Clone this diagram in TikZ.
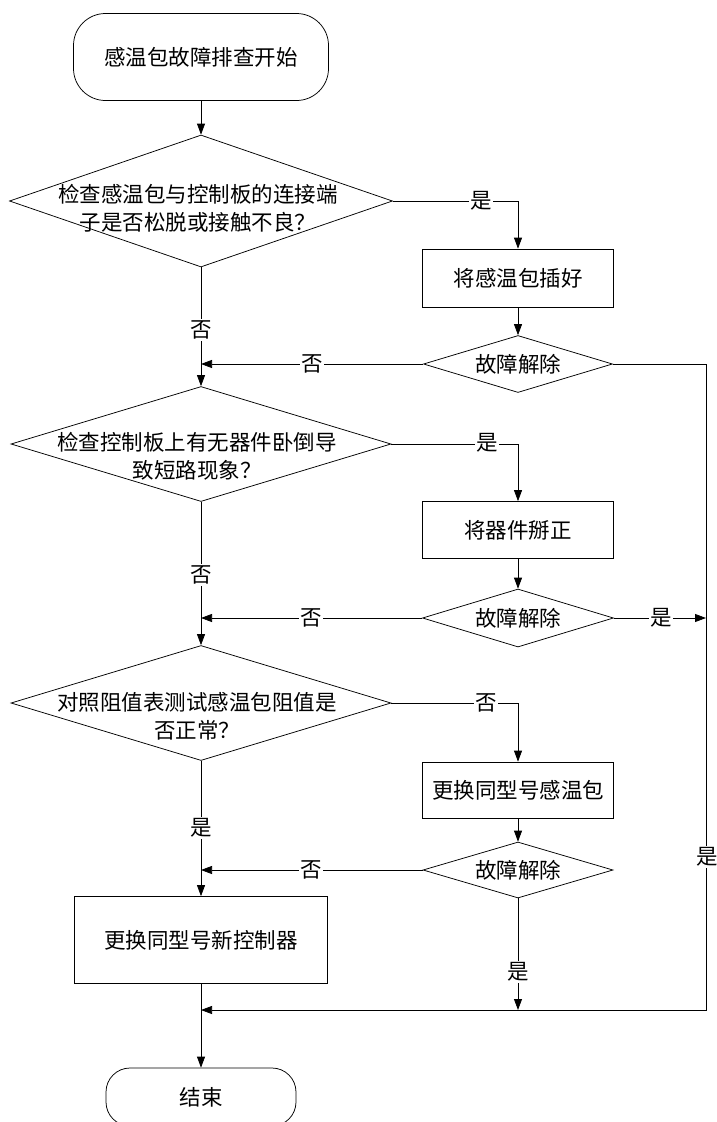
\documentclass[tikz,border=0pt]{standalone}
\usepackage{fontspec}
\setmainfont{Noto Sans CJK SC}
\usetikzlibrary{shapes.geometric,arrows.meta}
\begin{document}
\begin{tikzpicture}[x=1pt,y=-1pt,
  every node/.style={font=\fontsize{21.5}{28}\selectfont},
  term/.style={draw, rectangle, inner sep=0pt},
  proc/.style={draw, rectangle, inner sep=0pt},
  dia/.style={draw, diamond, inner sep=0pt},
  txt/.style={align=center, inner sep=0pt},
  lbl/.style={fill=white, inner sep=1.5pt},
  arr/.style={-{Triangle[length=11pt,width=8pt]}},
  line width=0.75pt]
\useasboundingbox[fill=white] (0,0) rectangle (717,1122);
% nodes
\node[term, minimum width=255pt, minimum height=87pt, rounded corners=32pt] (start) at (201,57) {感温包故障排查开始};
\node[dia, minimum width=383pt, minimum height=132pt] (d1) at (201,201) {};
\node[txt] (t1) at (198,208) {检查感温包与控制板的连接端\\子是否松脱或接触不良？};
\node[proc, minimum width=191pt, minimum height=58pt] (b1) at (518,278) {将感温包插好};
\node[dia, minimum width=189pt, minimum height=57pt] (d2) at (518,364) {};
\node[txt] (t2) at (518,364) {故障解除};
\node[dia, minimum width=380pt, minimum height=115pt] (d3) at (201,444) {};
\node[txt] (t3) at (197,456) {检查控制板上有无器件卧倒导\\致短路现象？};
\node[proc, minimum width=191pt, minimum height=57pt] (b2) at (518,530) {将器件掰正};
\node[dia, minimum width=191pt, minimum height=58pt] (d4) at (518,618) {};
\node[txt] (t4) at (518,618) {故障解除};
\node[dia, minimum width=380pt, minimum height=115pt] (d5) at (201,703) {};
\node[txt] (t5) at (197,716) {对照阻值表测试感温包阻值是\\否正常？};
\node[proc, minimum width=191pt, minimum height=56pt] (b3) at (518,790) {更换同型号感温包};
\node[dia, minimum width=190pt, minimum height=56pt] (d6) at (518,870) {};
\node[txt] (t6) at (518,870) {故障解除};
\node[proc, minimum width=253pt, minimum height=87pt] (b4) at (201,940) {更换同型号新控制器};
\node[term, minimum width=190pt, minimum height=58pt, rounded corners=24pt] (end) at (201,1097) {结束};
\coordinate (rx) at (706,1010);
\coordinate (j) at (201,1010);
% main axis
\draw[arr] (start) -- (d1);
\draw[arr] (d1.south) -- (d3.north);
\draw[arr] (d3.south) -- (d5.north);
\draw[arr] (d5.south) -- (b4.north);
\draw[arr] (b4) -- (end);
% branches
\draw[arr] (d1.east) -| (b1.north);
\draw[arr] (b1) -- (d2);
\draw[arr] (d2.west) -- (d2.west -| d1.south);
\draw[arr] (d3.east) -| (b2.north);
\draw[arr] (b2) -- (d4);
\draw[arr] (d4.west) -- (d4.west -| d1.south);
\draw[arr] (d4.east) -- (d4.east -| rx);
\draw[arr] (d5.east) -| (b3.north);
\draw[arr] (b3) -- (d6);
\draw[arr] (d6.west) -- (d6.west -| d1.south);
\draw[arr] (d6.south) -- (d6.south |- j);
\draw[arr] (d2.east) -| (rx) -- (j);
% labels
\node[lbl] (l1) at (481,201) {是};
\node[lbl] (l2) at (201,330) {否};
\node[lbl] (l3) at (312,364) {否};
\node[lbl] (l4) at (487,443) {是};
\node[lbl] (l5) at (201,575) {否};
\node[lbl] (l6) at (311,618) {否};
\node[lbl] (l7) at (661,618) {是};
\node[lbl] (l8) at (486,703) {否};
\node[lbl] (l9) at (201,828) {是};
\node[lbl] (l10) at (311,870) {否};
\node[lbl] (l11) at (518,972) {是};
\node[lbl] (l12) at (707,857) {是};
\end{tikzpicture}
\end{document}
